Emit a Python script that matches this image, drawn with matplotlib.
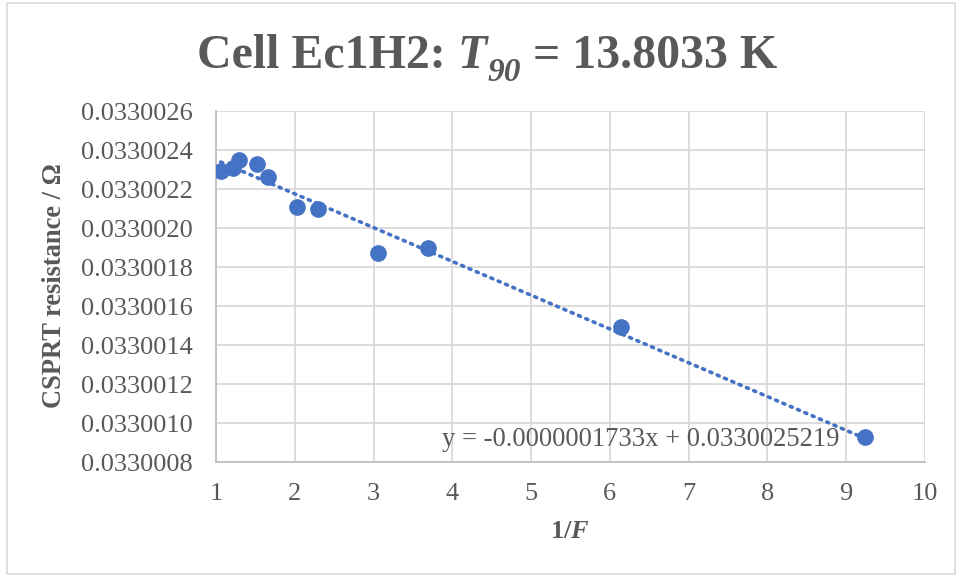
import matplotlib.pyplot as plt
from matplotlib.patches import Rectangle
import numpy as np

# 1/F values and CSPRT resistance
inv_f = [1.06, 1.22, 1.29, 1.52, 1.66, 2.03, 2.29, 3.06, 3.69, 6.14, 9.24]
resistance = [0.03300229, 0.03300231, 0.03300235, 0.03300233, 0.03300226,
              0.03300211, 0.03300210, 0.03300187, 0.03300190, 0.03300149,
              0.03300093]

# linear trendline from the chart label
slope = -0.0000001733
intercept = 0.0330025219

y_ticks = [0.0330008 + 0.0000002 * i for i in range(10)]
x_ticks = list(range(1, 11))

plt.rcParams['font.family'] = ['Liberation Serif', 'DejaVu Serif']
plt.rcParams['mathtext.fontset'] = 'custom'
plt.rcParams['mathtext.rm'] = 'Liberation Serif:bold'
plt.rcParams['mathtext.it'] = 'Liberation Serif:italic:bold'
plt.rcParams['mathtext.bf'] = 'Liberation Serif:bold'

GREY = '#595959'
BLUE = '#4472C4'
W, H = 960, 577

fig = plt.figure(figsize=(9.6, 5.77), dpi=100)
fig.patches.append(Rectangle((0.007, 0.005), 0.988, 0.99, transform=fig.transFigure,
                             fill=False, edgecolor='#d9d9d9', lw=1.2))
ax = fig.add_axes([216 / W, 1 - 462 / H, (925 - 216) / W, (462 - 111) / H])

xs = np.array([min(inv_f), max(inv_f)])
ax.plot(xs, slope * xs + intercept, linestyle=(0, (0.6, 1.6)), dash_capstyle='round',
        color=BLUE, lw=2.6, zorder=2)
ax.plot(inv_f, resistance, 'o', color=BLUE, markersize=11, zorder=3)

ax.set_xlim(1, 10)
ax.set_ylim(y_ticks[0], y_ticks[-1])
ax.set_xticks(x_ticks)
ax.set_yticks(y_ticks)
ax.set_yticklabels(['%.7f' % v for v in y_ticks])
ax.grid(True, color='#d9d9d9', lw=1.3)
ax.set_axisbelow(True)
for s in ['top', 'right']:
    ax.spines[s].set_visible(False)
for s in ['left', 'bottom']:
    ax.spines[s].set_color('#bfbfbf')
    ax.spines[s].set_linewidth(1.3)
ax.tick_params(length=0, labelsize=19, colors=GREY)
ax.tick_params(axis='y', pad=17)
ax.tick_params(axis='x', pad=15)

fig.text(442 / W, 1 - 440 / H, 'y = -0.0000001733x + 0.0330025219',
         ha='left', va='center', fontsize=19.2, color=GREY)

# title built from pieces so the subscript can be bold italic
renderer = fig.canvas.get_renderer()
base = 1 - 68 / H
pieces = [('Cell Ec1H2:', 34.5, 'normal', 0),
          (' ', 34.5, 'normal', 0),
          ('T', 34.5, 'italic', 0),
          ('90', 24, 'italic', 13),
          ('= 13.8033 K', 34.5, 'normal', 0)]
texts = []
widths = []
for s, size, style, dy in pieces:
    if s == ' ':
        t = fig.text(0, base, 'a', fontsize=size, fontweight='bold', alpha=0)
        widths.append(size * 0.25 * 100 / 72)
    else:
        t = fig.text(0, base - dy / H, s, fontsize=size, fontweight='bold',
                     fontstyle=style, color=GREY, va='baseline')
        widths.append(t.get_window_extent(renderer).width)
    texts.append(t)
widths[3] += 34.5 * 0.25 * 100 / 72
x = 487 - sum(widths) / 2
for t, w in zip(texts, widths):
    t.set_x(x / W)
    x += w

fig.text(55 / W, 1 - 286 / H, 'CSPRT resistance / Ω', rotation=90,
         ha='center', va='center', fontsize=19.1, fontweight='bold', color=GREY)
fig.text(570 / W, 1 - 531 / H, r'1/$\mathit{F}$', ha='center', va='center',
         fontsize=19, fontweight='bold', color=GREY)

plt.savefig('out.png', dpi=100)
